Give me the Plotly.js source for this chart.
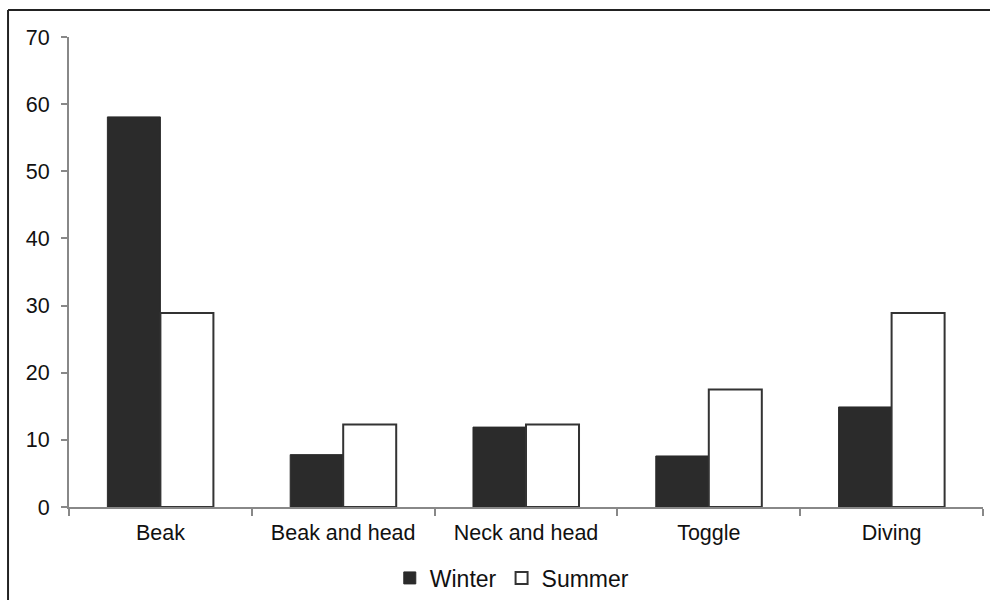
<!DOCTYPE html>
<html>
<head>
<meta charset="utf-8">
<script src="https://cdn.plot.ly/plotly-3.0.1.min.js"></script>
<style>html,body{margin:0;padding:0;background:#fff;}#chart{width:990px;height:600px;}</style>
</head>
<body>
<div id="chart"></div>
<script>
const categories = ["Beak", "Beak and head", "Neck and head", "Toggle", "Diving"];
const winter = [58.1, 7.8, 11.9, 7.6, 14.9];
const summer = [28.9, 12.3, 12.3, 17.5, 28.9];
const yTicks = [0, 10, 20, 30, 40, 50, 60, 70];

const font = {family: "Liberation Sans, Arial, sans-serif", size: 21.5, color: "#111"};
const legendFont = {family: "Liberation Sans, Arial, sans-serif", size: 23, color: "#111"};

const traces = [
  {type: "bar", name: "Winter", x: categories, y: winter,
   marker: {color: "#2b2b2b", line: {color: "#2b2b2b", width: 1}}},
  {type: "bar", name: "Summer", x: categories, y: summer,
   marker: {color: "#ffffff", line: {color: "#333333", width: 2}}}
];

const layout = {
  width: 990, height: 600,
  margin: {l: 69, r: 7, t: 37, b: 93, autoexpand: false},
  paper_bgcolor: "#fff", plot_bgcolor: "#fff",
  font: font,
  barmode: "group",
  bargap: 0.42,
  bargroupgap: 0,
  showlegend: true,
  legend: {orientation: "h", x: 0.485, xanchor: "center", y: -0.151, yanchor: "middle",
           font: legendFont, itemwidth: 30, traceorder: "normal"},
  xaxis: {type: "category", showline: true, linecolor: "#888", linewidth: 2,
          ticks: "outside", tickson: "boundaries", ticklen: 7, tickcolor: "#888", tickwidth: 2,
          ticklabelstandoff: 5,
          showgrid: false, zeroline: false, tickfont: font},
  yaxis: {range: [0, 70], tickvals: yTicks, showline: true, linecolor: "#888", linewidth: 2,
          ticks: "outside", ticklen: 6, tickcolor: "#888", tickwidth: 2,
          ticklabelstandoff: 7,
          showgrid: false, zeroline: false, tickfont: font},
  shapes: [
    {type: "line", xref: "paper", yref: "paper", x0: -0.0667, x1: 1.1, y0: 1.0573, y1: 1.0573,
     line: {color: "#222", width: 2}},
    {type: "line", xref: "paper", yref: "paper", x0: -0.0667, x1: -0.0667, y0: 1.0573, y1: -0.3,
     line: {color: "#222", width: 2}}
  ]
};

Plotly.newPlot("chart", traces, layout, {displayModeBar: false, staticPlot: true});
</script>
</body>
</html>
